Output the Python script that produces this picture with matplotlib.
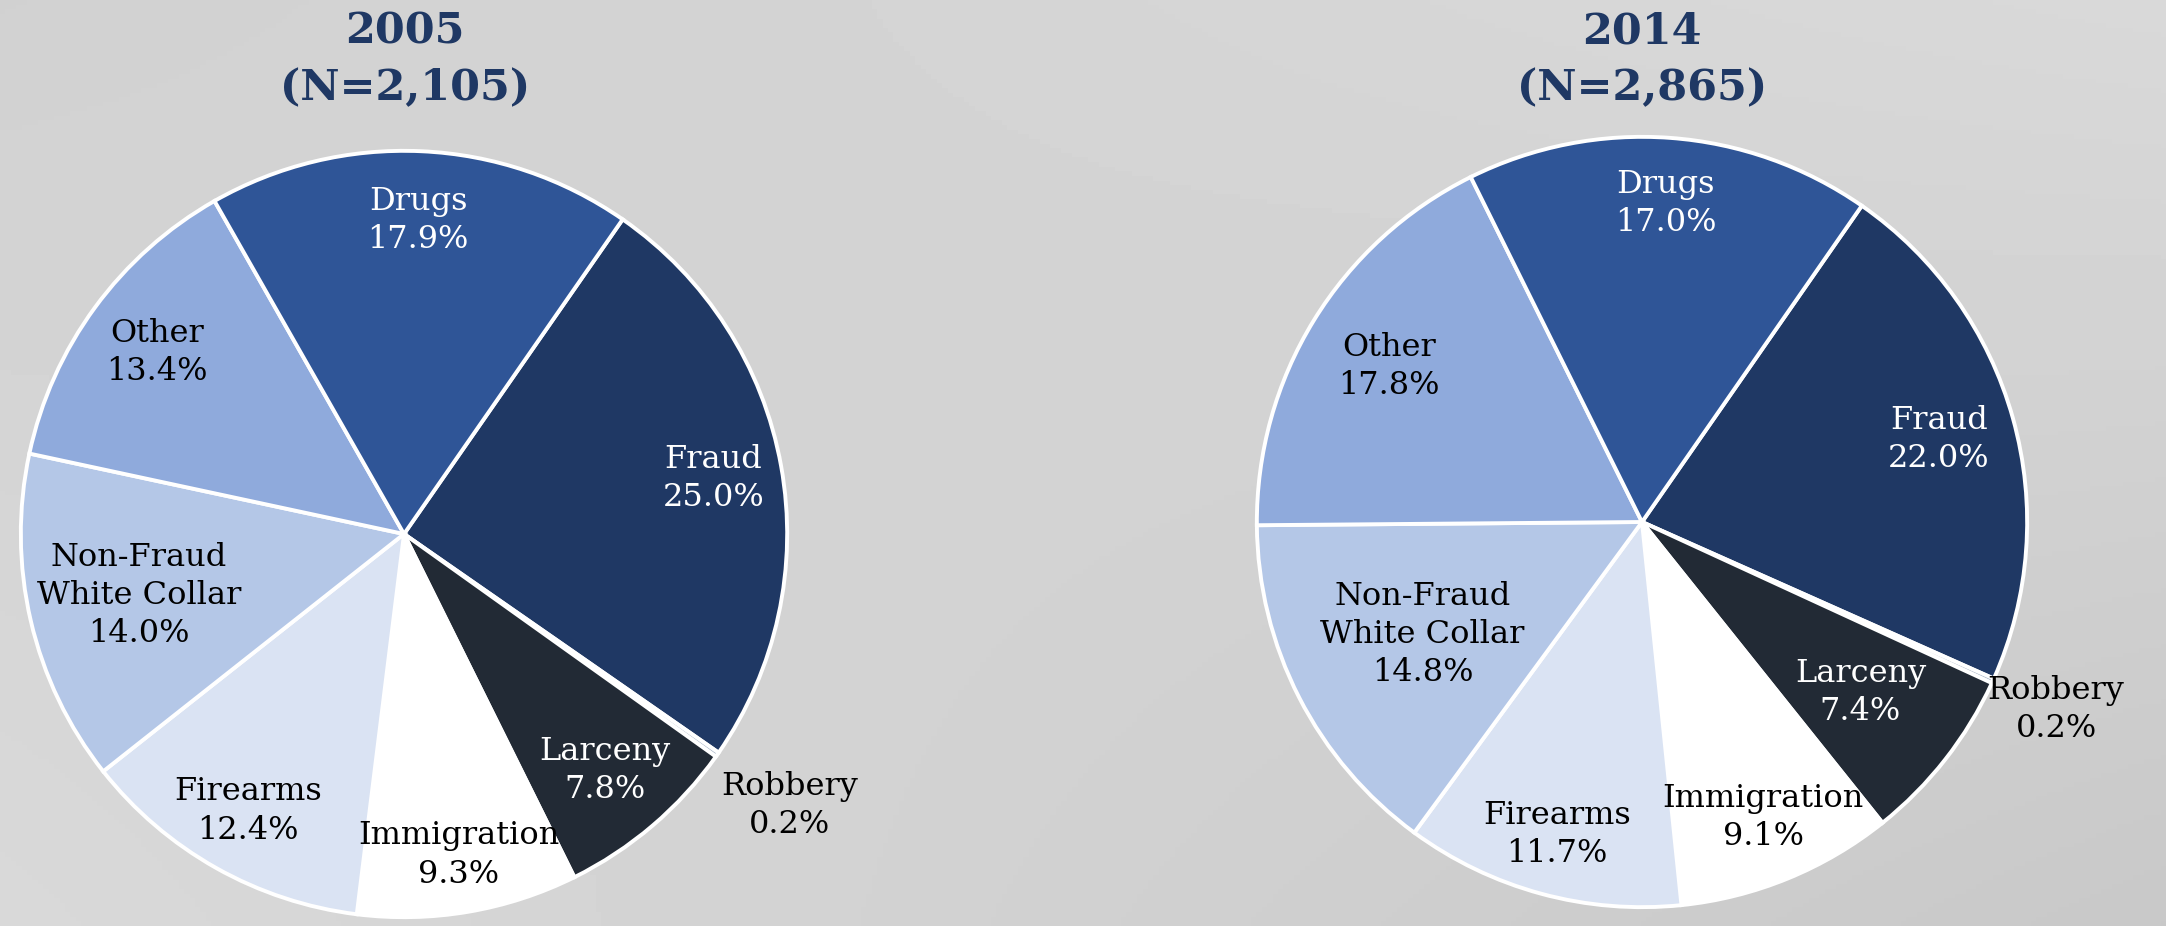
import matplotlib.pyplot as plt
import numpy as np

# Offense categories, in clockwise order starting from Fraud
categories = ["Fraud", "Robbery", "Larceny", "Immigration", "Firearms",
              "Non-Fraud\nWhite Collar", "Other", "Drugs"]
share_2005 = [25.0, 0.2, 7.8, 9.3, 12.4, 14.0, 13.4, 17.9]
share_2014 = [22.0, 0.2, 7.4, 9.1, 11.7, 14.8, 17.8, 17.0]
titles = ["2005\n(N=2,105)", "2014\n(N=2,865)"]

# styling
colors = ["#1f3864", "#adb9ca", "#222a35", "#ffffff", "#dae3f3",
          "#b4c7e7", "#8faadc", "#2f5597"]
text_colors = ["white", "black", "white", "black", "black", "black", "black", "white"]
label_dist_2005 = [0.82, 1.23, 0.81, 0.85, 0.83, 0.71, 0.80, 0.82]
label_dist_2014 = [0.80, 1.18, 0.72, 0.83, 0.84, 0.64, 0.77, 0.83]

W, H = 2166, 926
fig = plt.figure(figsize=(W / 100, H / 100), dpi=100)

# grey gradient background
bg = fig.add_axes([0, 0, 1, 1])
yy, xx = np.mgrid[0:1:200j, 0:1:400j]
grad = 0.85 - 0.065 * xx * yy - 0.03 * (1 - xx) * (1 - yy)
bg.imshow(grad, cmap="gray", vmin=0, vmax=1, aspect="auto", extent=[0, 1, 0, 1])
bg.set_axis_off()


def draw_pie(rect, values, dists, title, cx_px):
    ax = fig.add_axes(rect)
    wedges, _ = ax.pie(values, colors=colors, startangle=55.2, counterclock=False,
                       radius=1.0,
                       wedgeprops=dict(edgecolor="white", linewidth=2.8))
    for w, lab, v, d, tc in zip(wedges, categories, values, dists, text_colors):
        ang = np.deg2rad((w.theta1 + w.theta2) / 2)
        ax.text(d * np.cos(ang), d * np.sin(ang), f"{lab}\n{v:.1f}%",
                ha="center", va="center", color=tc, fontsize=23,
                family="DejaVu Serif", linespacing=1.3)
    ax.set_xlim(-1.01, 1.01)
    ax.set_ylim(-1.01, 1.01)
    ax.set_aspect("equal")
    ax.set_axis_off()
    fig.text(cx_px / W, 1 - 60 / H, title, ha="center", va="center",
             fontsize=31, fontweight="bold", family="DejaVu Serif",
             color="#1f3864", linespacing=1.45)


draw_pie([17 / W, 5 / H, 774 / W, 774 / H], share_2005, label_dist_2005, titles[0], 405)
draw_pie([1253 / W, 15 / H, 778 / W, 778 / H], share_2014, label_dist_2014, titles[1], 1642)

fig.savefig("out.png", dpi=100)
